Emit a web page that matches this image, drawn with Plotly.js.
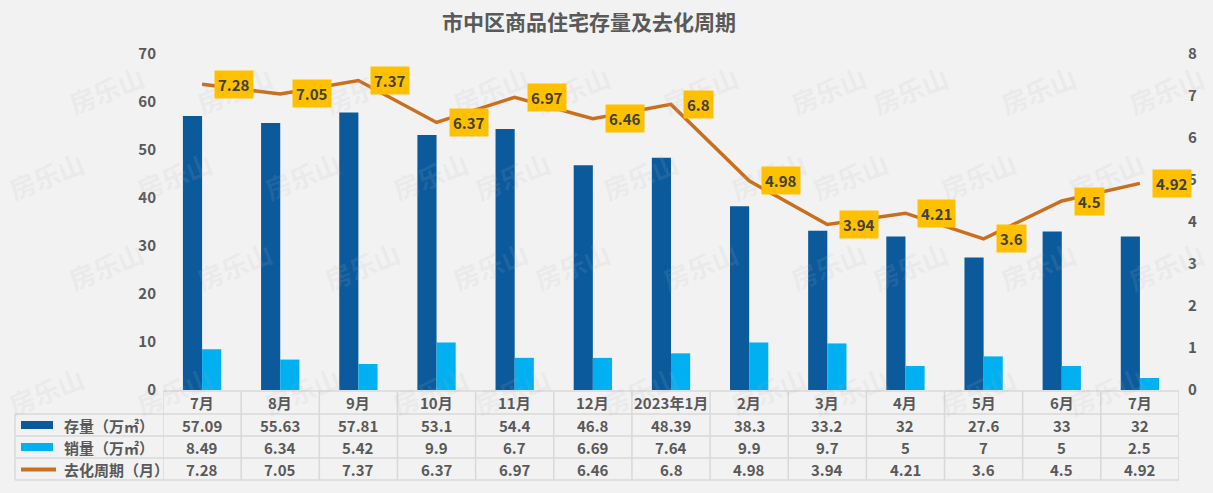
<!DOCTYPE html>
<html>
<head>
<meta charset="utf-8">
<script src="https://cdn.plot.ly/plotly-3.0.1.min.js"></script>
<style>
  html, body { margin: 0; padding: 0; background: #f2f2f2; }
  #chart { width: 1213px; height: 493px; }
</style>
</head>
<body>
<div id="chart"></div>
<script>
// 市中区商品住宅：月度存量、销量与去化周期
const months = ['7月', '8月', '9月', '10月', '11月', '12月', '2023年1月', '2月', '3月', '4月', '5月', '6月', '7月'];
const stock = [57.09, 55.63, 57.81, 53.1, 54.4, 46.8, 48.39, 38.3, 33.2, 32, 27.6, 33, 32];
const sales = [8.49, 6.34, 5.42, 9.9, 6.7, 6.69, 7.64, 9.9, 9.7, 5, 7, 5, 2.5];
const cycle = [7.28, 7.05, 7.37, 6.37, 6.97, 6.46, 6.8, 4.98, 3.94, 4.21, 3.6, 4.5, 4.92];
const seriesNames = ['存量（万㎡）', '销量（万㎡）', '去化周期（月）'];
const leftTicks = [0, 10, 20, 30, 40, 50, 60, 70];
const rightTicks = [0, 1, 2, 3, 4, 5, 6, 7, 8];

const W = 1213, H = 493;
const M = { l: 163, r: 34, t: 54, b: 103 };
const plotW = W - M.l - M.r, plotH = H - M.t - M.b;
const plotBottom = H - M.b;

const DARK = '#0a5a9c', LIGHT = '#00b0f0', LINE = '#c8701f';
const TEXT = '#595959', GRID = '#d9d9d9';
const FONT = '"Noto Sans CJK SC", "Noto Sans", sans-serif';

const idx = months.map((_, i) => i);
const py2paper = py => (plotBottom - py) / plotH;
const px2paper = px => (px - M.l) / plotW;

const traces = [
  { type: 'bar', x: idx, y: stock, name: seriesNames[0], marker: { color: DARK }, hoverinfo: 'y' },
  { type: 'bar', x: idx, y: sales, name: seriesNames[1], marker: { color: LIGHT }, hoverinfo: 'y' },
  { type: 'scatter', mode: 'lines', x: idx, y: cycle, yaxis: 'y2', name: seriesNames[2],
    line: { color: LINE, width: 3.5 }, hoverinfo: 'y' }
];

const annotations = [];
const shapes = [];

// faint background watermarks
const wmRows = [55, 175, 300, 425];
wmRows.forEach((wy, r) => {
  for (let wx = (r % 2 ? 0 : 60); wx < W + 60; wx += 128) {
    annotations.push({
      xref: 'paper', yref: 'paper', x: px2paper(wx), y: py2paper(wy),
      text: '房乐山', showarrow: false, textangle: -22,
      font: { family: FONT, size: 26, color: 'rgba(180,180,180,0.15)', weight: 'bold' }
    });
  }
});

// value labels on the cycle line
cycle.forEach((v, i) => {
  annotations.push({
    xref: 'x', yref: 'y2', x: i, y: v, text: String(v), showarrow: false,
    xanchor: 'left', yanchor: 'middle', xshift: 12,
    bgcolor: '#ffc000', borderpad: 3,
    font: { family: FONT, size: 15, color: '#404040', weight: 'bold' }
  });
});

// data table under the plot
const rowCenters = [402.5, 425, 447, 469];
const rowLines = [391, 414, 436, 458, 480];
const rows = [months, stock, sales, cycle];
rows.forEach((vals, r) => {
  vals.forEach((v, i) => {
    annotations.push({
      xref: 'x', yref: 'paper', x: i, y: py2paper(rowCenters[r]), text: String(v),
      showarrow: false, xanchor: 'center', yanchor: 'middle',
      font: { family: FONT, size: 15, color: TEXT, weight: 'bold' }
    });
  });
});

const tableLeft = 15;
rowLines.forEach((ly, k) => {
  shapes.push({
    type: 'line', xref: 'paper', yref: 'paper',
    x0: k === 0 ? 0 : px2paper(tableLeft), x1: 1, y0: py2paper(ly), y1: py2paper(ly),
    line: { color: GRID, width: 1.5 }
  });
});
for (let i = 0; i <= months.length; i++) {
  shapes.push({
    type: 'line', xref: 'x', yref: 'paper', x0: i - 0.5, x1: i - 0.5,
    y0: py2paper(rowLines[0]), y1: py2paper(rowLines[4]),
    line: { color: GRID, width: 1.5 }
  });
}
shapes.push({
  type: 'line', xref: 'paper', yref: 'paper', x0: px2paper(tableLeft), x1: px2paper(tableLeft),
  y0: py2paper(rowLines[1]), y1: py2paper(rowLines[4]), line: { color: GRID, width: 1.5 }
});

// legend keys and names in the table's first column
[DARK, LIGHT].forEach((c, k) => {
  const cy = rowCenters[k + 1];
  shapes.push({
    type: 'rect', xref: 'paper', yref: 'paper',
    x0: px2paper(21), x1: px2paper(53), y0: py2paper(cy - 4), y1: py2paper(cy + 4),
    fillcolor: c, line: { width: 0 }
  });
});
shapes.push({
  type: 'line', xref: 'paper', yref: 'paper',
  x0: px2paper(21), x1: px2paper(56), y0: py2paper(rowCenters[3] + 0.5), y1: py2paper(rowCenters[3] + 0.5),
  line: { color: LINE, width: 4 }
});
seriesNames.forEach((n, k) => {
  annotations.push({
    xref: 'paper', yref: 'paper', x: px2paper(62), y: py2paper(rowCenters[k + 1]),
    text: n, showarrow: false, xanchor: 'left', yanchor: 'middle',
    font: { family: FONT, size: 15, color: TEXT, weight: 'bold' }
  });
});

const layout = {
  width: W, height: H,
  margin: M,
  paper_bgcolor: '#f2f2f2', plot_bgcolor: 'rgba(0,0,0,0)',
  font: { family: FONT, color: TEXT },
  title: {
    text: '市中区商品住宅存量及去化周期',
    x: 589 / W, xanchor: 'center', xref: 'container',
    y: 1 - 23 / H, yanchor: 'middle', yref: 'container',
    font: { family: FONT, size: 21, color: TEXT, weight: 'bold' }
  },
  showlegend: false,
  barmode: 'group', bargap: 0.51, bargroupgap: 0,
  xaxis: {
    range: [-0.5, months.length - 0.5], showticklabels: false, showgrid: false,
    zeroline: false, showline: false, ticks: '', fixedrange: true
  },
  yaxis: {
    range: [0, 70], tickvals: leftTicks, showgrid: false, zeroline: false, showline: false,
    ticks: '', ticklabelstandoff: 6,
    tickfont: { family: FONT, size: 15, color: TEXT, weight: 'bold' }
  },
  yaxis2: {
    range: [0, 8], tickvals: rightTicks, overlaying: 'y', side: 'right',
    showgrid: false, zeroline: false, showline: false, ticks: '', ticklabelstandoff: 8,
    tickfont: { family: FONT, size: 15, color: TEXT, weight: 'bold' }
  },
  annotations: annotations,
  shapes: shapes
};

Plotly.newPlot('chart', traces, layout, { displayModeBar: false, staticPlot: true });
</script>
</body>
</html>
